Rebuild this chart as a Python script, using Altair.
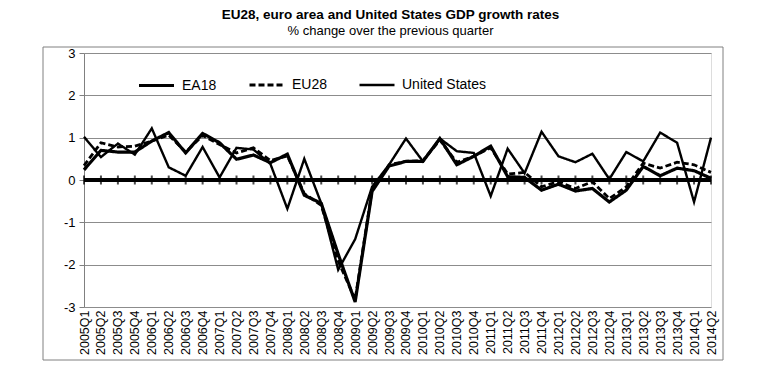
import altair as alt
import pandas as pd

quarters = ["2005Q1","2005Q2","2005Q3","2005Q4","2006Q1","2006Q2","2006Q3","2006Q4",
            "2007Q1","2007Q2","2007Q3","2007Q4","2008Q1","2008Q2","2008Q3","2008Q4",
            "2009Q1","2009Q2","2009Q3","2009Q4","2010Q1","2010Q2","2010Q3","2010Q4",
            "2011Q1","2011Q2","2011Q3","2011Q4","2012Q1","2012Q2","2012Q3","2012Q4",
            "2013Q1","2013Q2","2013Q3","2013Q4","2014Q1","2014Q2"]

ea18 = [0.24, 0.70, 0.66, 0.66, 0.92, 1.12, 0.64, 1.10, 0.88, 0.49,
        0.59, 0.41, 0.61, -0.36, -0.55, -1.75, -2.88, -0.27, 0.33, 0.44,
        0.44, 0.98, 0.36, 0.56, 0.80, 0.08, 0.06, -0.24, -0.10, -0.26,
        -0.20, -0.52, -0.24, 0.32, 0.10, 0.28, 0.22, 0.04]

eu28 = [0.34, 0.88, 0.78, 0.80, 0.92, 1.06, 0.66, 1.05, 0.84, 0.64,
        0.76, 0.46, 0.57, -0.32, -0.60, -1.92, -2.82, -0.24, 0.36, 0.44,
        0.46, 0.94, 0.42, 0.56, 0.76, 0.14, 0.18, -0.16, -0.04, -0.20,
        -0.04, -0.44, -0.16, 0.40, 0.28, 0.42, 0.36, 0.18]

us = [1.02, 0.54, 0.86, 0.60, 1.22, 0.30, 0.10, 0.78, 0.06, 0.76,
      0.72, 0.38, -0.68, 0.50, -0.55, -2.12, -1.40, -0.16, 0.36, 0.98,
      0.44, 0.98, 0.68, 0.64, -0.38, 0.74, 0.16, 1.14, 0.56, 0.42,
      0.62, 0.02, 0.66, 0.44, 1.12, 0.88, -0.52, 1.00]

series_names = ["EA18", "EU28", "United States"]
y_ticks = [-3, -2, -1, 0, 1, 2, 3]

rows = []
for name, vals in zip(series_names, [ea18, eu28, us]):
    for q, v in zip(quarters, vals):
        rows.append({"quarter": q, "series": name, "value": v})
df = pd.DataFrame(rows)
qdf = pd.DataFrame({"quarter": quarters})
frame_df = pd.DataFrame({"a": [0]})

FONT = "Liberation Sans"

x_enc = alt.X("quarter:N", sort=quarters,
              scale=alt.Scale(type="point", padding=0),
              axis=alt.Axis(labelAngle=-90, domain=False, ticks=False, grid=False,
                            labelFontSize=12.5, labelPadding=3, title=None,
                            labelOverlap=False, labelColor="black", labelFont=FONT))

y_scale = alt.Scale(domain=[-3, 3], nice=False)

base_y = alt.Y("value:Q", scale=y_scale,
               axis=alt.Axis(values=y_ticks, grid=True, gridColor="#8c8c8c",
                             gridWidth=1, domainColor="#808080", tickColor="#808080",
                             tickSize=5, labelFontSize=13, labelPadding=4,
                             labelExpr="datum.value + ''", title=None,
                             labelColor="black", labelFont=FONT))

frame = alt.Chart(frame_df).mark_rect(fillOpacity=0, stroke="#808080", strokeWidth=1).encode(
    x=alt.value(-41), x2=alt.value(639), y=alt.value(-6), y2=alt.value(307)
)

zero = alt.Chart(qdf).mark_rule(color="black", strokeWidth=3).encode(
    y=alt.datum(0, scale=y_scale)
)

ticks = alt.Chart(qdf).mark_tick(orient="vertical", color="black", thickness=2, size=9).encode(
    x=x_enc, y=alt.datum(0)
)

lines = alt.Chart(df).mark_line().encode(
    x=x_enc,
    y=base_y,
    color=alt.Color("series:N",
                    scale=alt.Scale(domain=series_names, range=["black", "black", "black"]),
                    legend=alt.Legend(orient="none", legendX=53, legendY=13,
                                      direction="horizontal", title=None,
                                      symbolType="stroke", symbolSize=1225,
                                      labelFontSize=14, labelFont=FONT,
                                      labelColor="black", columnPadding=26,
                                      gridAlign="none",
                                      labelOffset=6, padding=0,
                                      symbolStrokeColor="black")),
    strokeDash=alt.StrokeDash("series:N",
                              scale=alt.Scale(domain=series_names,
                                              range=[[1, 0], [6, 3], [1, 0]])),
    strokeWidth=alt.StrokeWidth("series:N",
                                scale=alt.Scale(domain=series_names, range=[3.2, 2.4, 1.1])),
)

chart = alt.layer(frame, zero, ticks, lines).properties(
    width=627, height=254,
    padding={"left": 76, "top": 45, "right": 40, "bottom": 60},
    autosize=alt.AutoSizeParams(type="none"),
    title=alt.TitleParams(
        text="EU28, euro area and United States GDP growth rates",
        subtitle="% change over the previous quarter",
        font=FONT, fontSize=13.5, fontWeight="bold", color="black",
        subtitleFont=FONT, subtitleFontSize=13, subtitleColor="black",
        subtitlePadding=3, anchor="middle", offset=9, dx=-7,
    ),
).configure_view(stroke="#a6a6a6", strokeWidth=2).configure(background="white")

chart.save("out.html", embed_options={"renderer": "svg", "actions": False})
